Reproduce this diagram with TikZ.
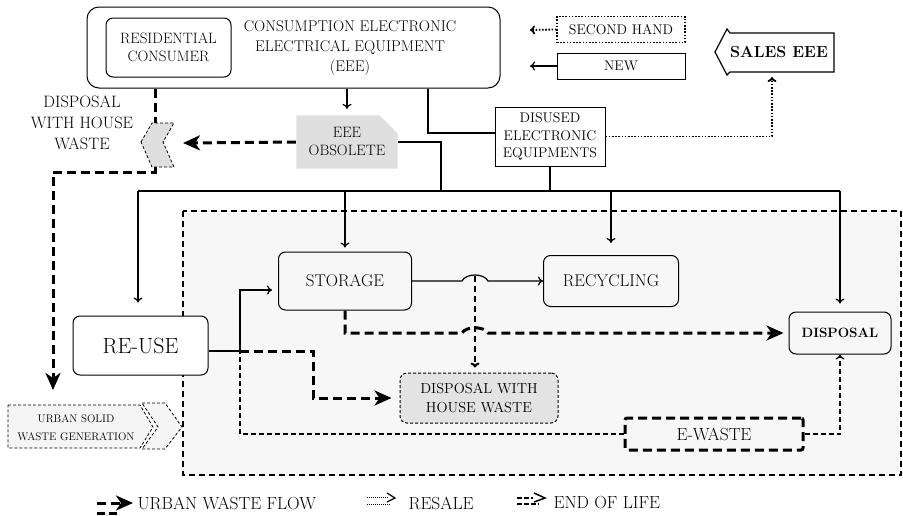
\documentclass[tikz,border=0pt]{standalone}
\usepackage{fontspec}
\usetikzlibrary{arrows.meta,shapes.misc}

\tikzset{
  box/.style={draw, rounded corners=7pt, line width=1pt, align=center},
  plainbox/.style={draw, line width=1pt, align=center},
  waste/.style={line width=3pt, dash pattern=on 9pt off 5pt, -{Stealth[length=17pt,width=15pt,inset=5pt]}},
  endlife/.style={line width=1.3pt, dash pattern=on 5pt off 3pt},
  resale/.style={line width=1.8pt, dash pattern=on 1.6pt off 1.6pt},
  >={To[length=5pt,width=9pt]}
}
\newcommand{\fs}[2]{\fontsize{#1}{#2}\selectfont}

\begin{document}
\begin{tikzpicture}[x=1pt, y=-1pt, line width=1.2pt]
\useasboundingbox (0,0) rectangle (903,515);
% area of e-waste management
\filldraw[fill=gray!6, line width=1.6pt, dash pattern=on 6pt off 4pt] (183,211) rectangle (901,475);

% consumption of EEE
\node[box, rounded corners=12pt, minimum width=413pt, minimum height=81pt] (main) at (293.5,47.5) {};
\node[box, minimum width=125pt, minimum height=59pt, font=\fs{15}{18}] (resid) at (168.5,47.5) {RESIDENTIAL\\CONSUMER};
\node[font=\fs{15.5}{20}, align=center] (eee) at (350,48) {CONSUMPTION ELECTRONIC\\ELECTRICAL EQUIPMENT\\(EEE)};

\node[draw, resale, line width=1.2pt, minimum width=128pt, minimum height=26pt, font=\fs{14}{16}] (second) at (621,29.5) {SECOND HAND};
\node[plainbox, minimum width=128pt, minimum height=26pt, font=\fs{14}{16}] (new) at (621,66) {NEW};
\coordinate (inA) at (530,30);
\coordinate (inB) at (530,66);
\draw[resale, ->] (second.west) -- (inA);
\draw[->] (new.west) -- (inB);

\draw[line width=1.2pt, fill=white] (715,52) -- (727,29) -- (730,33) -- (834,33) -- (834,72) -- (730,72) -- (727,75) -- cycle;
\node[font=\bfseries\fs{16}{20}] (sales) at (779,52) {SALES EEE};
\coordinate (salesin) at (772,77);

\node[plainbox, minimum width=110pt, minimum height=59pt, font=\fs{14}{17.5}] (disused) at (550,136.5) {DISUSED\\ELECTRONIC\\EQUIPMENTS};
\node[chamfered rectangle, chamfered rectangle corners=north east, chamfered rectangle xsep=9pt, chamfered rectangle ysep=9pt, fill=gray!25, minimum width=100pt, minimum height=40pt, align=center, font=\fs{15}{18}] (obs) at (347,142) {EEE\\OBSOLETE};

% disposal with house waste (outside)
\filldraw[fill=gray!25, line width=0.8pt, dash pattern=on 3pt off 2pt] (141,142) -- (152,123) -- (174,123) -- (163,142) -- (174,167) -- (152,167) -- cycle;
\coordinate (chevtop) at (155,123);
\coordinate (chevbot) at (155,167);
\coordinate (chevin) at (183,143);
\node[font=\fs{16.5}{21}, align=center] (dhwlabel) at (82,123) {DISPOSAL\\WITH HOUSE\\WASTE};

% urban solid waste generation
\filldraw[fill=gray!8, line width=0.8pt, dash pattern=on 3pt off 2pt] (8,405) -- (140,405) -- (153,427) -- (140,448) -- (8,448) -- cycle;
\filldraw[fill=gray!8, line width=0.8pt, dash pattern=on 3pt off 2pt] (142,403) -- (165,403) -- (182,427) -- (165,449) -- (142,449) -- (158,427) -- cycle;
\node[font=\fs{11}{18}, align=center] (usw) at (76,428) {URBAN SOLID\\WASTE GENERATION};
\coordinate (uswin) at (53,390);

% management
\node[box, minimum width=133pt, minimum height=58pt, font=\fs{17}{20}] (storage) at (345,281) {STORAGE};
\node[box, minimum width=135pt, minimum height=51pt, font=\fs{17}{20}] (recyc) at (611,281) {RECYCLING};
\node[box, minimum width=102pt, minimum height=42pt, font=\bfseries\fs{13.5}{18}] (disposal) at (840,333) {DISPOSAL};
\node[box, fill=white, minimum width=135pt, minimum height=59pt, font=\fs{22}{24}] (reuse) at (140.5,345.5) {RE-USE};
\node[box, line width=1pt, dash pattern=on 3pt off 2pt, fill=gray!22, minimum width=158pt, minimum height=50pt, font=\fs{14.5}{19}] (dhw) at (479,398) {DISPOSAL WITH\\HOUSE WASTE};
\node[draw, rounded corners=2pt, line width=3pt, dash pattern=on 9pt off 5pt, minimum width=178pt, minimum height=32pt, font=\fs{17.5}{22}] (ewaste) at (714,434) {E-WASTE};

% flows
\coordinate (m1) at (428,133);
\coordinate (busL) at (138,191);
\coordinate (busR) at (840,191);
\coordinate (busO) at (441,191);
\draw[->, shorten >=6pt] (main.south -| obs) -- (obs.north);
\draw (main.south -| m1) |- (disused.west |- m1);
\draw[resale, ->] (disused.east) -| (salesin);
\draw (obs.east) -| (busO);
\draw (disused.south) -- (disused.south |- busL);
\draw (busL) -- (busR);
\draw[->, shorten >=13pt] (busL) -- (reuse.north -| busL);
\draw[->, shorten >=4pt] (storage.north |- busL) -- (storage.north);
\draw[->, shorten >=12pt] (recyc.north |- busL) -- (recyc.north);
\draw[->, shorten >=8pt] (busR) -- (disposal.north);

\draw[waste] (obs.west) -- (chevin);
\draw[waste, -] (main.south -| chevtop) -- (chevtop);
\draw[waste] (chevbot) -- ++(0,5) -| (uswin);

\coordinate (hop1) at (475,276);
\coordinate (j1) at (240,351);
\coordinate (j2) at (240,290);
\coordinate (k1) at (313,351);
\draw[->] (storage.east) -- (462,281) .. controls (466,273) and (484,273) .. (488,281) -- (recyc.west);
\draw[waste, shorten >=5pt] (storage.south) |- (462,333) .. controls (466,326) and (484,326) .. (488,333) -- (disposal.west);
\draw[line width=2pt, dash pattern=on 6pt off 4pt, ->, shorten >=5pt] (hop1) -- (dhw.north -| hop1);
\draw (reuse.east |- j1) -- (j1);
\draw[->, shorten >=6pt] (j1) |- (storage.west |- j2);
\draw[waste, shorten >=8pt] (j1) -- (k1) |- (dhw.west);
\draw[endlife] (ewaste.west) -| (j1);
\draw[endlife, ->] (ewaste.east) -| (disposal.south);

% legend
\node[font=\fs{17.5}{20}, anchor=west, inner sep=0pt] (lgwaste) at (137,503) {URBAN WASTE FLOW};
\node[font=\fs{17.5}{20}, anchor=west, inner sep=0pt] (lgresale) at (408,503) {RESALE};
\node[font=\fs{17.5}{20}, anchor=west, inner sep=0pt] (lgend) at (553,503) {END OF LIFE};
\draw[waste] ([xshift=-40pt]lgwaste.west) -- ([xshift=-4pt]lgwaste.west);
\draw[line width=3pt, dash pattern=on 8pt off 4pt] ([xshift=-40pt,yshift=-10pt]lgwaste.west) -- ++(21,0);
\draw[line width=1pt, densely dotted] ([xshift=-41pt,yshift=6pt]lgresale.west) -- ++(22,0);
\draw[line width=1pt, densely dotted] ([xshift=-41pt,yshift=-1pt]lgresale.west) -- ++(24,0);
\draw[line width=1.2pt] ([xshift=-21pt,yshift=10pt]lgresale.west) -- ([xshift=-13pt,yshift=5pt]lgresale.west) -- ([xshift=-21pt,yshift=1pt]lgresale.west);
\draw[line width=1.5pt, dash pattern=on 5pt off 2pt] ([xshift=-36pt,yshift=5pt]lgend.west) -- ++(16,0);
\draw[line width=1.5pt, dash pattern=on 5pt off 2pt] ([xshift=-36pt,yshift=-1pt]lgend.west) -- ++(22,0);
\draw[line width=1.5pt] ([xshift=-19pt,yshift=10pt]lgend.west) -- ([xshift=-8pt,yshift=5pt]lgend.west) -- ([xshift=-19pt,yshift=1pt]lgend.west);
\end{tikzpicture}
\end{document}
